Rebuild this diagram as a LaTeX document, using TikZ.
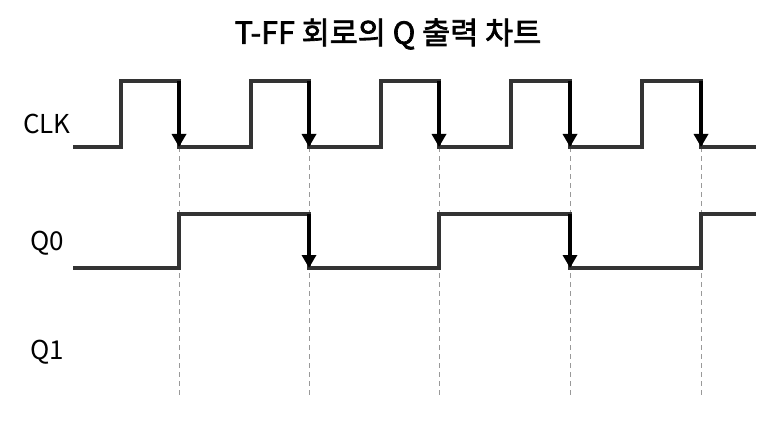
\documentclass[tikz,border=0pt]{standalone}
\usepackage{fontspec}
\setmainfont{Noto Sans CJK KR}
\newfontfamily\titlefont{Noto Sans CJK KR}[FakeBold=2.2]
\usetikzlibrary{arrows.meta}
\definecolor{wave}{HTML}{333333}
\definecolor{guide}{HTML}{999999}
\tikzset{
  wavestyle/.style={draw=wave,line width=3.3pt,line join=miter},
  edgearrow/.style={draw=wave,line width=3.3pt,-{Triangle[width=14pt,length=13pt]},black},
  guideline/.style={draw=guide,line width=1pt,dash pattern=on 5pt off 4pt},
  siglabel/.style={font=\fontsize{26}{30}\selectfont,text=black,anchor=center,inner sep=0pt},
  titlestyle/.style={font=\titlefont\fontsize{30.5}{36}\selectfont,text=black,anchor=center,inner sep=0pt}
}
\begin{document}
\begin{tikzpicture}[x=1pt,y=-1pt]
\useasboundingbox (0,0) rectangle (768,433);
\node[titlestyle] (title) at (388,34) {T-FF 회로의 Q 출력 차트};
\node[siglabel] (clk) at (47,124) {CLK};
\node[siglabel] (q0) at (47,243) {Q0};
\node[siglabel] (q1) at (47,352) {Q1};
% falling-edge coordinates
\foreach \i/\x in {1/179,2/309,3/439,4/570,5/701}{
  \coordinate (fh\i) at (\x,81);
  \coordinate (fl\i) at (\x,147);
  \coordinate (gb\i) at (\x,397);
}
% guides
\foreach \i in {1,...,5}{ \draw[guideline] (fl\i) -- (gb\i); }
% CLK waveform
\draw[wavestyle] (73,147) -- (121,147) -- (121,81) -- (fh1) -- (fl1)
  -- (251,147) -- (251,81) -- (fh2) -- (fl2)
  -- (381,147) -- (381,81) -- (fh3) -- (fl3)
  -- (511,147) -- (511,81) -- (fh4) -- (fl4)
  -- (642,147) -- (642,81) -- (fh5) -- (fl5) -- (756,147);
\foreach \i in {1,...,5}{ \draw[edgearrow] (fh\i) -- (fl\i); }
% Q0 waveform
\coordinate (qa) at (179,268); \coordinate (qb) at (179,214);
\coordinate (qc) at (309,214); \coordinate (qd) at (309,268);
\coordinate (qe) at (439,268); \coordinate (qf) at (439,214);
\coordinate (qg) at (570,214); \coordinate (qh) at (570,268);
\coordinate (qi) at (701,268); \coordinate (qj) at (701,214);
\draw[wavestyle] (73,268) -- (qa) -- (qb) -- (qc) -- (qd) -- (qe) -- (qf) -- (qg) -- (qh) -- (qi) -- (qj) -- (756,214);
\draw[edgearrow] (qc) -- (qd);
\draw[edgearrow] (qg) -- (qh);
\end{tikzpicture}
\end{document}
